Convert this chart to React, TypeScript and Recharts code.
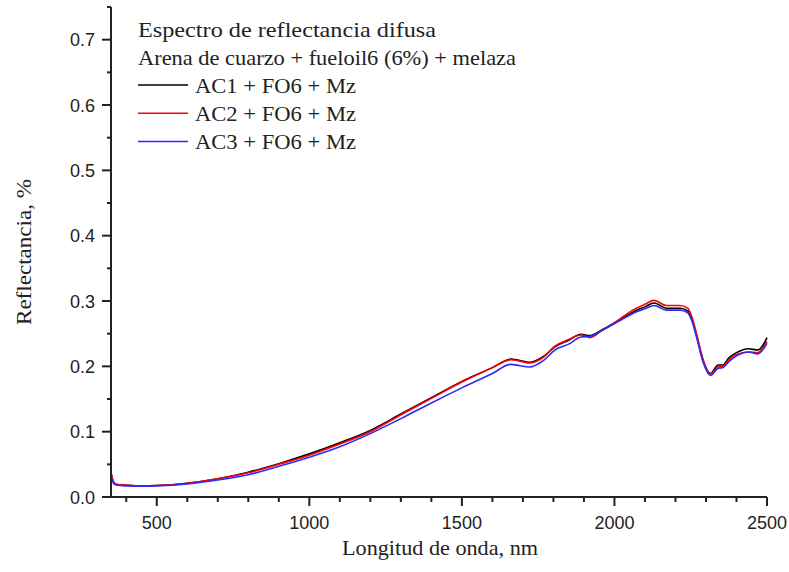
import React from 'react';
import { LineChart, Line, XAxis, YAxis } from 'recharts';

// wavelength (nm) and reflectance
const wavelengths = [
  350, 355, 360, 370, 400, 450, 500, 600, 700, 800, 900, 1000, 1100, 1200, 1300, 1400, 1500, 1600,
  1660, 1690, 1720, 1770, 1805, 1850, 1890, 1920, 1960, 2010, 2060, 2100, 2130, 2170, 2215, 2240,
  2255, 2270, 2290, 2315, 2340, 2355, 2375, 2400, 2440, 2470, 2500,
];

const ac1 = [
  0.038, 0.027, 0.022, 0.019, 0.018, 0.017, 0.0175, 0.021, 0.028, 0.038, 0.051, 0.066, 0.083, 0.102,
  0.127, 0.152, 0.177, 0.198, 0.211, 0.209, 0.206, 0.216, 0.23, 0.24, 0.249, 0.247, 0.256, 0.269,
  0.283, 0.291, 0.297, 0.289, 0.289, 0.285, 0.271, 0.246, 0.21, 0.189, 0.202, 0.202, 0.213, 0.221,
  0.227, 0.225, 0.244,
];

const ac2 = [
  0.037, 0.027, 0.022, 0.019, 0.018, 0.017, 0.0175, 0.021, 0.028, 0.037, 0.05, 0.064, 0.081, 0.1,
  0.126, 0.151, 0.176, 0.198, 0.21, 0.208, 0.205, 0.215, 0.231, 0.241, 0.248, 0.244, 0.255, 0.27,
  0.286, 0.295, 0.301, 0.293, 0.293, 0.289, 0.274, 0.248, 0.211, 0.188, 0.199, 0.2, 0.21, 0.218,
  0.222, 0.221, 0.238,
];

const ac3 = [
  0.031, 0.024, 0.02, 0.018, 0.017, 0.0165, 0.017, 0.02, 0.026, 0.034, 0.047, 0.061, 0.077, 0.097,
  0.12, 0.144, 0.167, 0.189, 0.203, 0.201, 0.199, 0.21, 0.225, 0.234, 0.245, 0.246, 0.255, 0.268,
  0.281, 0.288, 0.293, 0.286, 0.286, 0.282, 0.268, 0.243, 0.207, 0.186, 0.197, 0.198, 0.207, 0.216,
  0.222, 0.219, 0.235,
];

const xTicks = [400, 500, 600, 700, 800, 900, 1000, 1100, 1200, 1300, 1400, 1500, 1600, 1700, 1800, 1900, 2000, 2100, 2200, 2300, 2400, 2500];
const yTicks = [0, 0.05, 0.1, 0.15, 0.2, 0.25, 0.3, 0.35, 0.4, 0.45, 0.5, 0.55, 0.6, 0.65, 0.7, 0.75];

const seriesNames = ['AC1 + FO6 + Mz', 'AC2 + FO6 + Mz', 'AC3 + FO6 + Mz'];
const seriesColors = ['#000000', '#ff0000', '#2a2aff'];

const data = wavelengths.map((w, i) => ({ w, ac1: ac1[i], ac2: ac2[i], ac3: ac3[i] }));

const AXIS = '#222';
const SANS = '"Liberation Sans", Arial, sans-serif';
const SERIF = '"Liberation Serif", "Times New Roman", serif';

const XTick = ({ x, y, payload }: any) => {
  const major = payload.value % 500 === 0;
  return (
    <g>
      <line x1={x} x2={x} y1={y} y2={y + (major ? 9 : 5)} stroke={AXIS} strokeWidth={2} />
      {major && (
        <text x={x} y={y + 32} textAnchor="middle" fontFamily={SANS} fontSize={18} fill={AXIS}>
          {payload.value}
        </text>
      )}
    </g>
  );
};

const YTick = ({ x, y, payload }: any) => {
  const major = Math.round(payload.value * 100) % 10 === 0;
  return (
    <g>
      <line x1={x - (major ? 9 : 4)} x2={x} y1={y} y2={y} stroke={AXIS} strokeWidth={2} />
      {major && (
        <text x={x - 16} y={y + 6.5} textAnchor="end" fontFamily={SANS} fontSize={18} fill={AXIS}>
          {payload.value.toFixed(1)}
        </text>
      )}
    </g>
  );
};

export default function App() {
  return (
    <div style={{ position: 'absolute', left: 0, top: 0, width: 789, height: 572, background: '#fff' }}>
      <LineChart width={789} height={572} data={data} margin={{ top: 7, right: 22, left: 0, bottom: 0 }}>
        <XAxis
          dataKey="w"
          type="number"
          domain={[350, 2500]}
          ticks={xTicks}
          interval={0}
          height={75}
          tickSize={0}
          tickMargin={0}
          tickLine={false}
          tick={<XTick />}
          axisLine={{ stroke: AXIS, strokeWidth: 2 }}
        />
        <YAxis
          type="number"
          domain={[0, 0.75]}
          ticks={yTicks}
          interval={0}
          width={111}
          tickSize={0}
          tickMargin={0}
          tickLine={false}
          tick={<YTick />}
          axisLine={{ stroke: AXIS, strokeWidth: 2 }}
        />
        <Line type="monotone" dataKey="ac1" stroke={seriesColors[0]} strokeWidth={1.6} dot={false} isAnimationActive={false} />
        <Line type="monotone" dataKey="ac2" stroke={seriesColors[1]} strokeWidth={1.6} dot={false} isAnimationActive={false} />
        <Line type="monotone" dataKey="ac3" stroke={seriesColors[2]} strokeWidth={1.6} dot={false} isAnimationActive={false} />
      </LineChart>
      <svg width={789} height={572} style={{ position: 'absolute', left: 0, top: 0, pointerEvents: 'none' }}>
        <g fontFamily={SERIF} fontSize={21} fill="#222">
          <text x={138} y={36.5} textLength={298} lengthAdjust="spacingAndGlyphs">Espectro de reflectancia difusa</text>
          <text x={138} y={64.5} textLength={378} lengthAdjust="spacingAndGlyphs">Arena de cuarzo + fueloil6 (6%) + melaza</text>
          {seriesNames.map((name, i) => (
            <g key={name}>
              <line x1={138} x2={188} y1={85 + i * 28.3} y2={85 + i * 28.3} stroke={seriesColors[i]} strokeWidth={1.5} />
              <text x={195} y={92.5 + i * 28.3} textLength={161} lengthAdjust="spacingAndGlyphs">{name}</text>
            </g>
          ))}
          <text x={440} y={555} textAnchor="middle" textLength={196} lengthAdjust="spacingAndGlyphs">Longitud de onda, nm</text>
          <text x={31} y={252} textAnchor="middle" transform="rotate(-90, 31, 252)" textLength={146} lengthAdjust="spacingAndGlyphs">Reflectancia, %</text>
        </g>
      </svg>
    </div>
  );
}
